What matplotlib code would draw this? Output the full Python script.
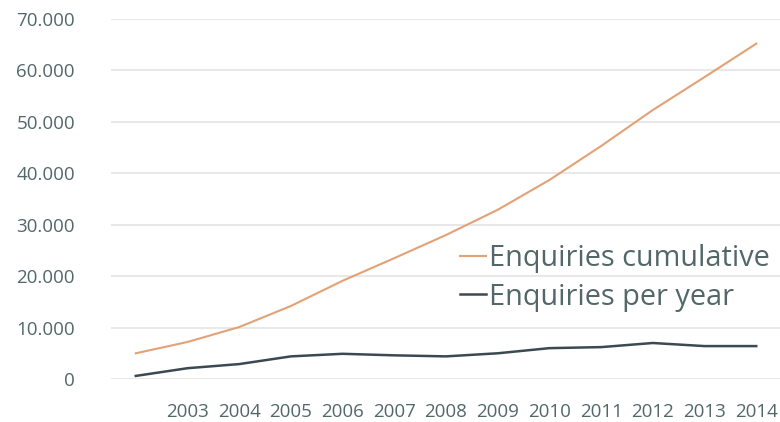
import matplotlib.pyplot as plt
from matplotlib.ticker import FuncFormatter

years = ['', '2003', '2004', '2005', '2006', '2007', '2008', '2009',
         '2010', '2011', '2012', '2013', '2014']
cumulative = [5000, 7200, 10100, 14200, 19100, 23500, 28000, 32900,
              38700, 45300, 52300, 58700, 65200]
per_year = [600, 2100, 2900, 4400, 4900, 4600, 4400, 5000,
            6000, 6200, 7000, 6400, 6400]

text_col = '#536769'
plt.rcParams['font.family'] = ['Open Sans', 'DejaVu Sans']

fig = plt.figure(figsize=(7.8, 4.22), dpi=100)
ax = fig.add_axes([111 / 780, 1 - 379 / 422, 1 - 111 / 780, (379 - 19) / 422])

x = range(len(years))
ax.plot(x, cumulative, color='#e3a176', lw=1.5, label='Enquiries cumulative')
ax.plot(x, per_year, color='#3b4a52', lw=1.8, label='Enquiries per year')

ax.set_ylim(0, 70000)
ax.set_xlim(-0.48, 12.46)
ax.set_yticks(range(0, 70001, 10000))
ax.yaxis.set_major_formatter(FuncFormatter(
    lambda v, p: '0' if v == 0 else f'{int(v):,}'.replace(',', '.')))
ax.set_xticks(list(x))
ax.set_xticklabels(years)

ax.grid(axis='y', color='#e4e4e4', lw=1.2)
ax.set_axisbelow(True)
for s in ax.spines.values():
    s.set_visible(False)
ax.tick_params(length=0, labelsize=13.5, labelcolor=text_col)
ax.yaxis.set_tick_params(pad=26)
ax.xaxis.set_tick_params(pad=17)

leg = ax.legend(loc='center left', bbox_to_anchor=(0.522, 0.281), frameon=False,
                fontsize=20.8, handlelength=0.9, handletextpad=0.1,
                labelspacing=0.33, borderaxespad=0, borderpad=0)
for t in leg.get_texts():
    t.set_color(text_col)

fig.savefig('out.png', dpi=100)
